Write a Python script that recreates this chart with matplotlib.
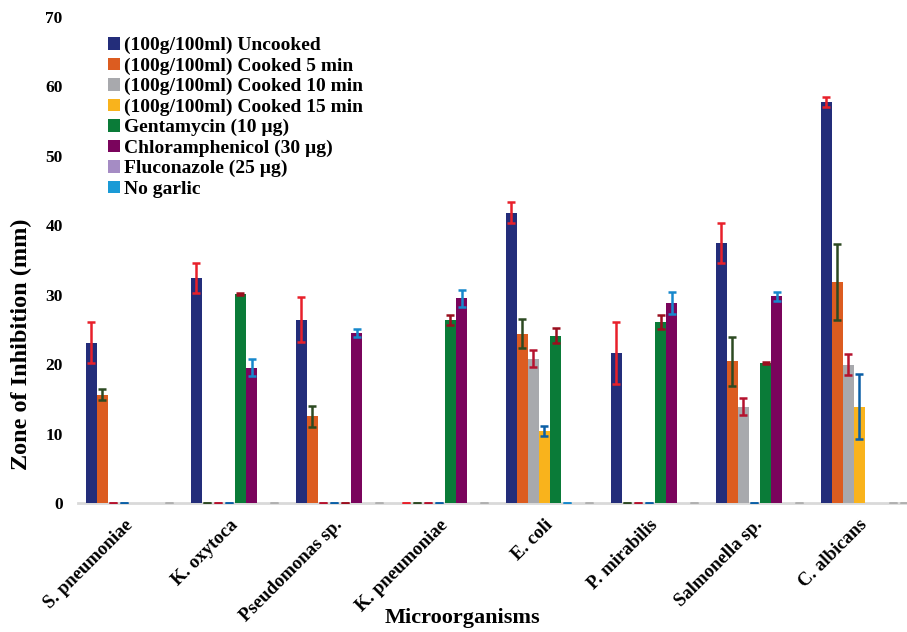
import numpy as np
import matplotlib.pyplot as plt
from matplotlib.patches import Patch

# DATA
organisms = ['S. pneumoniae', 'K. oxytoca', 'Pseudomonas sp.', 'K. pneumoniae',
             'E. coli', 'P. mirabilis', 'Salmonella sp.', 'C. albicans']
series = ['(100g/100ml) Uncooked', '(100g/100ml) Cooked 5 min',
          '(100g/100ml) Cooked 10 min', '(100g/100ml) Cooked 15 min',
          'Gentamycin (10 µg)', 'Chloramphenicol (30 µg)',
          'Fluconazole (25 µg)', 'No garlic']

nan = np.nan
uncooked = [23.1, 32.4, 26.4, 0, 41.8, 21.6, 37.4, 57.8]
uncooked_err = [2.9, 2.1, 3.2, 0, 1.5, 4.4, 2.9, 0.7]
cooked5 = [15.6, 0, 12.5, 0, 24.4, 0, 20.4, 31.8]
cooked5_err = [0.8, 0, 1.5, 0, 2.1, 0, 3.5, 5.5]
cooked10 = [0, 0, 0, 0, 20.8, 0, 13.9, 19.9]
cooked10_err = [0, 0, 0, 0, 1.25, 0, 1.2, 1.5]
cooked15 = [0, 0, 0, 0, 10.4, 0, 0, 13.9]
cooked15_err = [0, 0, 0, 0, 0.7, 0, 0, 4.7]
gentamycin = [0, 30.1, 0, 26.4, 24.1, 26.1, 20.1, 0]
gentamycin_err = [nan, 0.15, 0, 0.7, 1.1, 1.0, 0.15, nan]
chloramphenicol = [0, 19.5, 24.5, 29.5, 0, 28.8, 29.8, 0]
chloramphenicol_err = [nan, 1.2, 0.6, 1.2, 0, 1.6, 0.65, nan]
fluconazole = [0, 0, 0, 0, 0, 0, 0, 0]
fluconazole_err = [nan, nan, nan, nan, nan, nan, nan, 0]
no_garlic = [0, 0, 0, 0, 0, 0, 0, 0]
no_garlic_err = [0, 0, 0, 0, 0, 0, 0, 0]

values = [uncooked, cooked5, cooked10, cooked15, gentamycin, chloramphenicol, fluconazole, no_garlic]
errors = [uncooked_err, cooked5_err, cooked10_err, cooked15_err, gentamycin_err,
          chloramphenicol_err, fluconazole_err, no_garlic_err]

bar_colors = ['#232d7a', '#dc5c20', '#a8a9ad', '#f9b31c', '#0a7b38', '#7a045c', '#a58cc4', '#1a9ad6']
err_colors = ['#e8202a', '#2d4a22', '#b5122e', '#0a5fa6', '#9b0e1e', '#1688cc', '#b0b0b0', '#b0b0b0']

plt.rcParams['font.family'] = ['Liberation Serif', 'DejaVu Serif']
plt.rcParams['font.weight'] = 'bold'

fig = plt.figure(figsize=(9.07, 6.32), dpi=100)
ax = fig.add_axes([0.086, 0.2041, 0.914, 0.769])

x = np.arange(len(organisms))
w = 0.105
for j in range(len(series)):
    pos = x + (j - 3.5) * w
    ax.bar(pos, values[j], w, color=bar_colors[j], zorder=2)
    ax.errorbar(pos, values[j], yerr=errors[j], fmt='none', ecolor=err_colors[j],
                elinewidth=1.8, capsize=3.2, capthick=1.8, zorder=3)

ax.set_xlim(-0.495, 7.4)
ax.set_ylim(0, 70)
ax.set_yticks(range(0, 71, 10))
ax.set_xticks(x)
ax.set_xticklabels(organisms, rotation=45, ha='right', va='center', rotation_mode='anchor')
ax.tick_params(axis='both', length=0)
ax.tick_params(axis='y', pad=11, labelsize=12.5)
ax.tick_params(axis='x', pad=14, labelsize=13.5)

for s in ['top', 'right', 'left']:
    ax.spines[s].set_visible(False)
ax.spines['bottom'].set_color('#d9d9d9')
ax.spines['bottom'].set_linewidth(2)
ax.spines['bottom'].set_zorder(1)

ax.set_ylabel('Zone of Inhibition (mm)', fontsize=17.5, fontweight='bold')
ax.yaxis.set_label_coords(-0.055, 0.327)
ax.set_xlabel('Microorganisms', fontsize=16, fontweight='bold', va='center')
ax.xaxis.set_label_coords(0.464, -0.2366)

handles = [Patch(facecolor=c) for c in bar_colors]
fig.legend(handles, series, loc='upper left', bbox_to_anchor=(108 / 907, 1 - 37 / 632),
           frameon=False, fontsize=14, handlelength=0.62, handleheight=0.62,
           handletextpad=0.2, labelspacing=0.165, borderpad=0, borderaxespad=0)

plt.savefig('out.png', dpi=100)
